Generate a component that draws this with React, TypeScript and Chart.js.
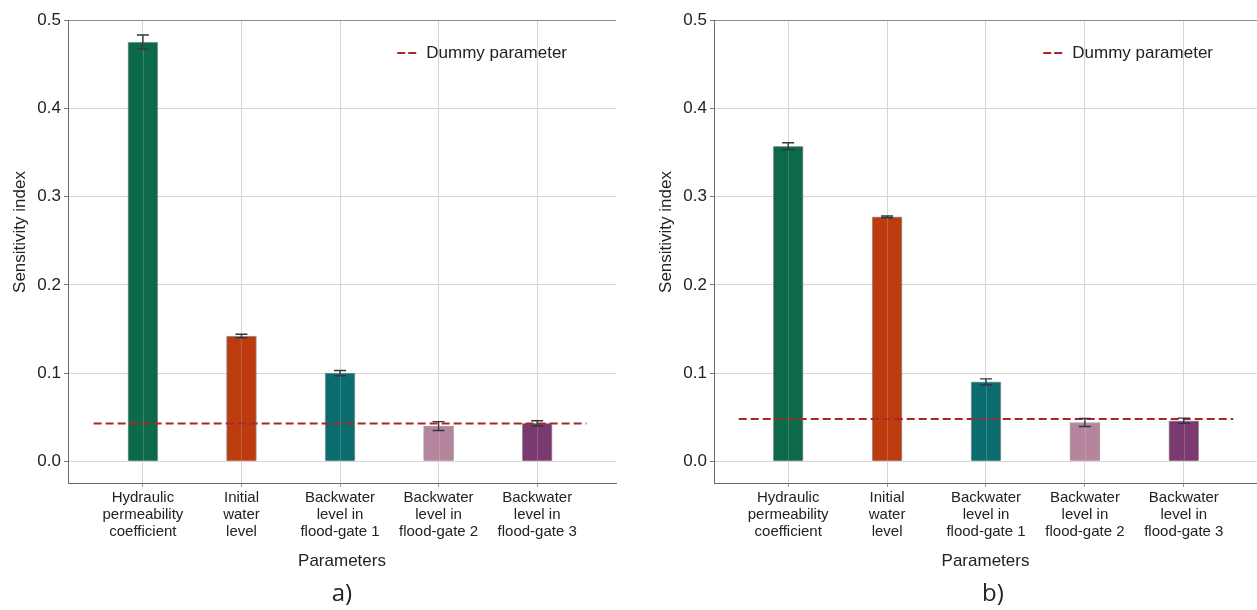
import React, { useEffect, useRef } from "react";
import { Chart, registerables } from "chart.js";

Chart.register(...registerables);

const categories: string[][] = [
  ["Hydraulic", "permeability", "coefficient"],
  ["Initial", "water", "level"],
  ["Backwater", "level in", "flood-gate 1"],
  ["Backwater", "level in", "flood-gate 2"],
  ["Backwater", "level in", "flood-gate 3"],
];
const barColors = ["#0c6a49", "#bc3b0f", "#0b6d70", "#b5849d", "#7a3a6f"];

const valuesA = [0.475, 0.142, 0.1, 0.04, 0.043];
const errorsA = [0.008, 0.002, 0.003, 0.005, 0.003];
const dummyA = 0.043;

const valuesB = [0.357, 0.277, 0.09, 0.044, 0.046];
const errorsB = [0.004, 0.001, 0.0035, 0.0045, 0.003];
const dummyB = 0.048;

const yTicks = [0, 0.1, 0.2, 0.3, 0.4, 0.5];
const legendLabel = "Dummy parameter";
const xTitle = "Parameters";
const yTitle = "Sensitivity index";

const FAMILY = "'Liberation Sans', Arial, Helvetica, sans-serif";
const DUMMY_COLOR = "#a8282a";
const TEXT = "#222";

const errorBarPlugin = {
  id: "errorBars",
  afterDatasetsDraw(chart: any, _args: any, opts: any) {
    const meta = chart.getDatasetMeta(1);
    const y = chart.scales.y;
    const ctx = chart.ctx;
    ctx.save();
    // faint grid line seen through the bars
    ctx.strokeStyle = "rgba(255,255,255,0.18)";
    ctx.lineWidth = 1;
    meta.data.forEach((el: any) => {
      ctx.beginPath();
      ctx.moveTo(Math.round(el.x) + 0.5, el.y);
      ctx.lineTo(Math.round(el.x) + 0.5, el.base);
      ctx.stroke();
    });
    ctx.strokeStyle = "#2f3742";
    ctx.lineWidth = 1.4;
    meta.data.forEach((el: any, i: number) => {
      const v = opts.values[i];
      const e = opts.errors[i];
      const x = el.x;
      const yt = y.getPixelForValue(v + e);
      const yb = y.getPixelForValue(v - e);
      ctx.beginPath();
      ctx.moveTo(x, yt);
      ctx.lineTo(x, yb);
      ctx.moveTo(x - 6, yt);
      ctx.lineTo(x + 6, yt);
      ctx.moveTo(x - 6, yb);
      ctx.lineTo(x + 6, yb);
      ctx.stroke();
    });
    ctx.restore();
  },
};

const legendPlugin = {
  id: "dummyLegend",
  afterDraw(chart: any) {
    const ctx = chart.ctx;
    const { left } = chart.chartArea;
    ctx.save();
    ctx.font = `17px ${FAMILY}`;
    const w = ctx.measureText(legendLabel).width;
    const tx = left + 499 - w;
    const ty = 53;
    ctx.fillStyle = TEXT;
    ctx.textBaseline = "middle";
    ctx.textAlign = "left";
    ctx.fillText(legendLabel, tx, ty);
    ctx.strokeStyle = DUMMY_COLOR;
    ctx.lineWidth = 2;
    ctx.setLineDash([8, 3]);
    ctx.beginPath();
    ctx.moveTo(tx - 29, ty);
    ctx.lineTo(tx - 10, ty);
    ctx.stroke();
    // y-axis title
    ctx.setLineDash([]);
    ctx.translate(left - 48, 232);
    ctx.rotate(-Math.PI / 2);
    ctx.textAlign = "center";
    ctx.fillText(yTitle, 0, 0);
    ctx.restore();
  },
};

type PanelProps = {
  values: number[];
  errors: number[];
  dummy: number;
  xMin: number;
  xMax: number;
  width: number;
  padRight: number;
  left: number;
};

function Panel({ values, errors, dummy, xMin, xMax, width, padRight, left }: PanelProps) {
  const ref = useRef<HTMLCanvasElement | null>(null);
  useEffect(() => {
    if (!ref.current) return;
    const positions = categories.map((_, i) => i + 1);
    const chart = new Chart(ref.current, {
      data: {
        datasets: [
          {
            type: "line",
            label: legendLabel,
            data: [
              { x: 0.5, y: dummy },
              { x: 5.5, y: dummy },
            ],
            borderColor: DUMMY_COLOR,
            borderWidth: 2,
            borderDash: [8, 4],
            pointRadius: 0,
            fill: false,
            order: 0,
          },
          {
            type: "bar",
            label: yTitle,
            data: positions.map((p, i) => ({ x: p, y: values[i] })),
            backgroundColor: barColors,
            borderColor: "rgba(80,80,80,0.55)",
            borderWidth: 1,
            barThickness: 30,
            order: 1,
          },
        ],
      } as any,
      options: {
        responsive: false,
        animation: false,
        layout: { padding: { top: 20, left: 0, right: padRight, bottom: 0 } },
        plugins: {
          legend: { display: false },
          tooltip: { enabled: false },
          errorBars: { values, errors },
        } as any,
        scales: {
          x: {
            type: "linear",
            offset: false,
            min: xMin,
            max: xMax,
            afterBuildTicks: (s: any) => {
              s.ticks = positions.map((v) => ({ value: v }));
            },
            afterFit: (s: any) => {
              s.height = 127;
            },
            ticks: {
              autoSkip: false,
              maxRotation: 0,
              minRotation: 0,
              padding: 2,
              color: TEXT,
              font: { family: FAMILY, size: 15, lineHeight: 1.14 },
              callback: (v: any) => {
                const i = positions.indexOf(Number(v));
                return i >= 0 ? categories[i] : "";
              },
            },
            grid: { offset: false, color: "#d6d6d6", tickColor: "#9a9a9a", tickLength: 4, lineWidth: 1 },
            border: { display: true, color: "#6a6a6a", width: 1 },
            title: {
              display: true,
              text: xTitle,
              color: TEXT,
              font: { family: FAMILY, size: 17 },
              padding: { top: 0, bottom: 38 },
            },
          },
          y: {
            type: "linear",
            min: -0.0245,
            max: 0.5,
            afterBuildTicks: (s: any) => {
              s.ticks = yTicks.map((v) => ({ value: v }));
            },
            afterFit: (s: any) => {
              s.width = 68;
            },
            ticks: {
              padding: 3,
              color: TEXT,
              font: { family: FAMILY, size: 17 },
              callback: (v: any) => Number(v).toFixed(1),
            },
            grid: {
              color: (c: any) =>
                c.tick && Math.abs(c.tick.value - 0.5) < 1e-9 ? "#8c8c8c" : "#d6d6d6",
              tickColor: "#777",
              tickLength: 4,
            },
            border: { display: true, color: "#6a6a6a", width: 1 },
            title: { display: false, text: yTitle },
          },
        },
      } as any,
      plugins: [errorBarPlugin, legendPlugin],
    });
    return () => chart.destroy();
  }, [values, errors, dummy, xMin, xMax, padRight]);

  return (
    <canvas
      ref={ref}
      width={width}
      height={610}
      style={{ position: "absolute", left, top: 0, width, height: 610 }}
    />
  );
}

export default function App() {
  const labelStyle: React.CSSProperties = {
    position: "absolute",
    top: 576,
    width: 60,
    textAlign: "center",
    fontFamily: "'Open Sans', 'Noto Sans', sans-serif",
    fontSize: 24,
    lineHeight: "32px",
    color: TEXT,
  };
  return (
    <div
      style={{
        position: "fixed",
        left: 0,
        top: 0,
        width: 1257,
        height: 610,
        background: "#fff",
        overflow: "hidden",
      }}
    >
      <Panel values={valuesA} errors={errorsA} dummy={dummyA} xMin={0.24} xMax={5.8} width={646} padRight={30} left={0} />
      <Panel values={valuesB} errors={errorsB} dummy={dummyB} xMin={0.25} xMax={5.74} width={611} padRight={0} left={646} />
      <div style={{ ...labelStyle, left: 342 - 30 }}>a)</div>
      <div style={{ ...labelStyle, left: 993 - 30 }}>b)</div>
    </div>
  );
}
